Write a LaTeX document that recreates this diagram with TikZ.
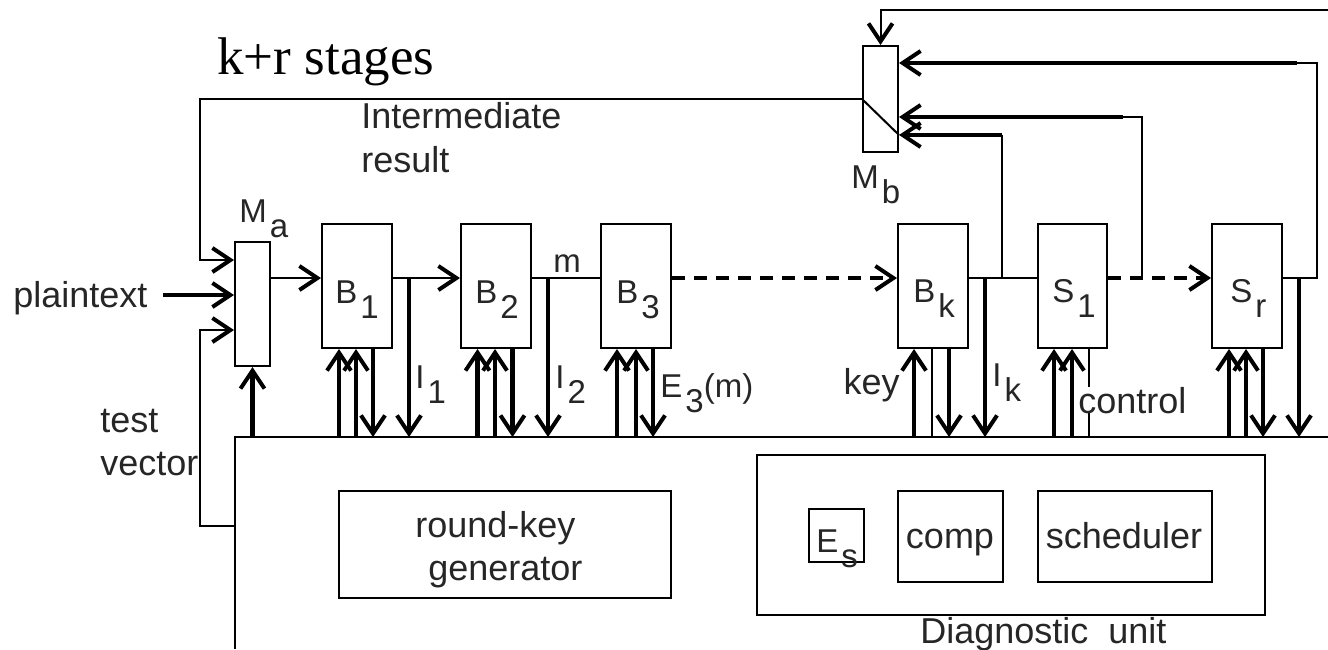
\documentclass[tikz,border=0pt]{standalone}
\usepackage{fontspec}
\setmainfont{Liberation Sans}
\newfontfamily\kserif{Liberation Serif}
\usetikzlibrary{arrows.meta,fit,calc}
\newcommand\lsub[2]{#1\hspace{1.5pt}\raisebox{-7.5pt}{#2}}
\newcommand\myup[2]{\draw[thk,hd] ($(#1.south west |- bt)+(#2,0)$) -- ($(#1.south west)+(#2,0)$);}
\newcommand\mydown[2]{\draw[thk,hd] ($(#1.south west)+(#2,0)$) -- ($(#1.south west |- bt)+(#2,0)$);}
\begin{document}
\begin{tikzpicture}[x=0.5pt,y=-0.5pt,
  thn/.style={line width=1pt},
  thk/.style={line width=2.3pt},
  hd/.style={-{Straight Barb[length=9pt,width=12pt,line width=2pt]}},
  dsh/.style={line width=2pt, dash pattern=on 6.5pt off 4.5pt},
  blk/.style={draw, line width=1pt, inner sep=0pt},
  wrd/.style={font=\fontsize{18}{21}\selectfont, text=black!85, inner sep=0pt},
  lab/.style={font=\fontsize{16.5}{18}\selectfont, text=black!85, inner sep=0pt},
]
\useasboundingbox (0,0) rectangle (1328,649);

% ---- title
\node[anchor=base west, inner sep=0pt, font=\kserif\fontsize{26.5}{30}\selectfont] (title) at (217,74) {k+r stages};

% ---- coordinates
\coordinate (ml) at (0,278);
\coordinate (bt) at (235,437);
\coordinate (bR) at (1328,437);
\coordinate (bB) at (235,649);

% ---- blocks
\node[blk, fit={(863,46) (898,152)}] (Mb) {};
\node[blk, fit={(235,242) (270,366)}] (Ma) {};
\node[blk, fit={(322,224) (392,348)}] (B1) {};
\node[blk, fit={(461,224) (531,348)}] (B2) {};
\node[blk, fit={(601,224) (671,348)}] (B3) {};
\node[blk, fit={(898,224) (968,348)}] (Bk) {};
\node[blk, fit={(1038,224) (1107,348)}] (S1) {};
\node[blk, fit={(1212,224) (1282,348)}] (Sr) {};

\node[blk, fit={(339,491) (671,598)}] (rk) {};
\node[blk, fit={(757,455) (1265,615)}] (du) {};
\node[blk, fit={(809,509) (864,562)}] (Es) {};
\node[blk, fit={(898,491) (1003,582)}] (comp) {};
\node[blk, fit={(1038,491) (1212,582)}] (sch) {};

% ---- bottom unit outline
\draw[thn] (bR) -- (bt) -- (bB);

% ---- block labels
\node[lab, anchor=base west] at (239,222) {\lsub{M}{a}};
\node[lab, anchor=base west] at (851,188) {\lsub{M}{b}};
\node[lab, anchor=base west] at (335,303) {\lsub{B}{1}};
\node[lab, anchor=base west] at (475,303) {\lsub{B}{2}};
\node[lab, anchor=base west] at (616,303) {\lsub{B}{3}};
\node[lab, anchor=base west] at (913,302) {\lsub{B}{k}};
\node[lab, anchor=base west] at (1052,302) {\lsub{S}{1}};
\node[lab, anchor=base west] at (1230,302) {\lsub{S}{r}};
\node[lab, anchor=base west] at (816,552) {\lsub{E}{s}};

% ---- word labels
\node[wrd, anchor=base west] at (361,128) {Intermediate};
\node[wrd, anchor=base west] at (361,172) {result};
\node[wrd, anchor=base west] (ptx) at (13,307) {plaintext};
\node[wrd, anchor=base west] at (100,432) {test};
\node[wrd, anchor=base west] at (100,475) {vector};
\node[lab, anchor=base west] at (553,272) {m};
\node[lab, anchor=base west] at (415,388) {\lsub{I}{1}};
\node[lab, anchor=base west] at (555,388) {\lsub{I}{2}};
\node[lab, anchor=base west] at (660,397) {\lsub{E}{3}(m)};
\node[lab, anchor=base west] at (992,386) {\lsub{I}{k}};
\node[wrd, anchor=base east] at (900,394) {key};
\node[wrd, anchor=base west] at (415,537) {round-key};
\node[wrd, anchor=base west] at (428,580) {generator};
\node[wrd, anchor=base] at (950,548) {comp};
\node[wrd, anchor=base] at (1124,548) {scheduler};
\node[wrd, anchor=base west] at (920,643) {Diagnostic\ \ unit};

% ---- Mb internals and top feedback
\draw[thn] (Mb.west) -- ([yshift=-18pt]Mb.east);
\coordinate (tr) at (1328,10);
\draw[thn,hd] (tr) -| (Mb.north);

% ---- intermediate-result loop into Ma
\coordinate (ib) at (200,260);
\draw[thn,hd] (Mb.west) -| (ib) -- (Ma.west |- ib);

% ---- plaintext and test vector
\coordinate (pin) at (163,295);
\draw[thk,hd] (pin) -- (Ma.west |- pin);
\coordinate (tv) at (200,330);
\coordinate (tva) at (235,526);
\draw[thn,hd] (tva) -| (tv) -- (Ma.west |- tv);
\draw[thk,hd] (Ma.south |- bt) -- (Ma.south);

% ---- main data path
\draw[thn,hd] (Ma.east |- ml) -- (B1.west |- ml);
\draw[thn,hd] (B1.east |- ml) -- (B2.west |- ml);
\draw[thn] (B2.east |- ml) -- (B3.west |- ml);
\draw[dsh,hd] (B3.east |- ml) -- (Bk.west |- ml);
\draw[thn] (Bk.east |- ml) -- (S1.west |- ml);
\draw[dsh,hd] (S1.east |- ml) -- (Sr.west |- ml);

% ---- taps down to unit
\coordinate (j1) at (409,278);
\coordinate (j2) at (548,278);
\coordinate (jk) at (985,278);
\coordinate (jr) at (1299,278);
\draw[thk,hd] (j1) -- (j1 |- bt);
\draw[thk,hd] (j2) -- (j2 |- bt);
\draw[thk,hd] (jk) -- (jk |- bt);
\draw[thk,hd] (jr) -- (jr |- bt);

% ---- feedback to Mb
\coordinate (fa) at (1297,63);
\coordinate (fa2) at (1317,63);
\draw[thn] (Sr.east |- ml) -| (fa2) -- (fa);
\draw[thk,hd] (fa) -- (Mb.east |- fa);
\coordinate (jb) at (1142,278);
\coordinate (fb) at (1123,117);
\draw[thn] (jb) |- (fb);
\draw[thk,hd] (fb) -- (Mb.east |- fb);
\coordinate (jc) at (1002,278);
\coordinate (fc) at (1002,135);
\draw[thn] (jc) -- (fc);
\draw[thk,hd] (fc) -- (Mb.east |- fc);

% ---- block I/O arrows
\myup{B1}{18} \myup{B1}{35} \mydown{B1}{52}
\myup{B2}{17.5} \myup{B2}{35} \mydown{B2}{52.5}
\myup{B3}{17} \myup{B3}{36} \mydown{B3}{53}
\myup{Bk}{17} \mydown{Bk}{52}
\draw[thn] ($(Bk.south west)+(35,0)$) -- ($(Bk.south west |- bt)+(35,0)$);
\myup{S1}{17} \myup{S1}{35}
\draw[thn] ($(S1.south west)+(52,0)$) -- ($(S1.south west |- bt)+(52,0)$);
\node[wrd, anchor=base west, fill=white] at (1078,413) {control};
\myup{Sr}{18} \myup{Sr}{35} \mydown{Sr}{52}
\end{tikzpicture}
\end{document}
